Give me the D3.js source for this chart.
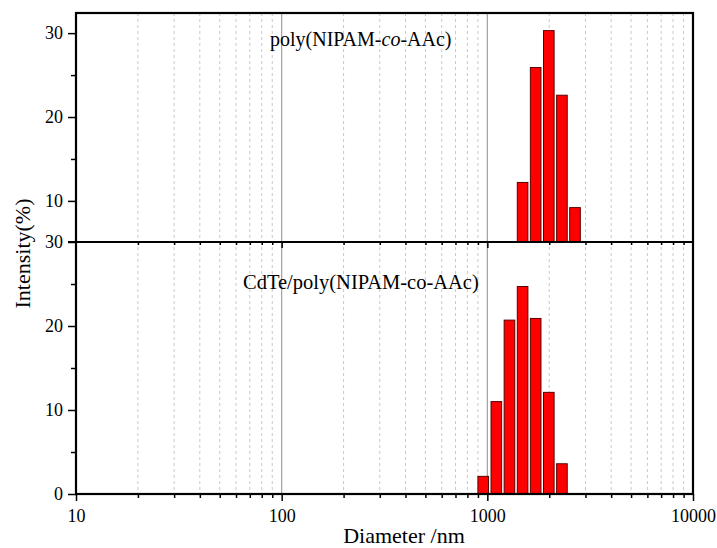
<!DOCTYPE html>
<html><head><meta charset="utf-8">
<script src="https://cdn.jsdelivr.net/npm/d3@7"></script>
<style>
body{margin:0;background:#fff;}
svg text{font-family:"Liberation Serif","Times New Roman","DejaVu Serif",serif;}
</style></head>
<body><svg id="c" width="717" height="548"></svg>
<script>
// Data
const polyDiam = [1484, 1718, 1990, 2305, 2669];
const polyInt  = [12.2, 25.9, 30.3, 22.6, 9.2];
const cdteDiam = [955, 1106, 1281, 1484, 1718, 1990, 2305];
const cdteInt  = [2.1, 11.0, 20.7, 24.7, 20.9, 12.1, 3.6];
const xTickValues = [10, 100, 1000, 10000];
const topYTicks = [10, 20, 30];
const botYTicks = [0, 10, 20, 30];
const topLabel = ["poly(NIPAM-", "co", "-AAc)"];
const botLabel = "CdTe/poly(NIPAM-co-AAc)";
const xTitle = "Diameter /nm";
const yTitle = "Intensity(%)";

const FONT = "Liberation Serif, Times New Roman, DejaVu Serif, serif";
const svg = d3.select("#c");
const L = 76, R = 693, T = 13, MID = 242, B = 494;
const x = d3.scaleLog().domain([10, 10000]).range([L, R]);
const yTop = d3.scaleLinear().domain([5.1, 32.4]).range([MID, T]);
const yBot = d3.scaleLinear().domain([0, 30]).range([B, MID]);

// minor positions
const minors = [];
for (let dec = 10; dec < 10000; dec *= 10) for (let k = 2; k <= 9; k++) minors.push(dec * k);

// grid
const g = svg.append("g");
g.selectAll(".mg").data(minors).enter().append("line")
  .attr("x1", d => x(d)).attr("x2", d => x(d)).attr("y1", T).attr("y2", B)
  .attr("stroke", "#c8c8c8").attr("stroke-width", 1).attr("stroke-dasharray", "3,3");
g.selectAll(".Mg").data([100, 1000]).enter().append("line")
  .attr("x1", d => x(d)).attr("x2", d => x(d)).attr("y1", T).attr("y2", B)
  .attr("stroke", "#a0a0a0").attr("stroke-width", 1.2);

// bars
const half = 1.0612;
function bars(diam, vals, y) {
  svg.append("g").selectAll("rect").data(diam).enter().append("rect")
    .attr("x", d => x(d / half))
    .attr("width", d => x(d * half) - x(d / half))
    .attr("y", (d, i) => y(vals[i]))
    .attr("height", (d, i) => y.range()[0] - y(vals[i]))
    .attr("fill", "#ff0000").attr("stroke", "#5a0000").attr("stroke-width", 1);
}
bars(polyDiam, polyInt, yTop);
bars(cdteDiam, cdteInt, yBot);

function styleAxis(a) {
  a.attr("font-family", FONT);
  a.select(".domain").remove();
  a.selectAll("line").attr("stroke", "#000").attr("stroke-width", 1.5);
  a.selectAll("text").attr("font-size", 18).attr("font-family", FONT).attr("fill", "#000");
}

// x axes
styleAxis(svg.append("g").attr("transform", `translate(0,${B})`)
  .call(d3.axisBottom(x).tickValues(xTickValues).tickFormat(d3.format("d")).tickSize(7).tickPadding(8)));
styleAxis(svg.append("g").attr("transform", `translate(0,${B})`)
  .call(d3.axisBottom(x).tickValues(minors).tickFormat("").tickSize(4)));

// ticks under the middle line (top panel x-axis)
styleAxis(svg.append("g").attr("transform", `translate(0,${MID})`)
  .call(d3.axisBottom(x).tickValues(xTickValues.slice(1, 3)).tickFormat("").tickSize(6)));
styleAxis(svg.append("g").attr("transform", `translate(0,${MID})`)
  .call(d3.axisBottom(x).tickValues(minors).tickFormat("").tickSize(3)));

// y axes
function yAxis(y, ticks, minorTicks) {
  styleAxis(svg.append("g").attr("transform", `translate(${L},0)`)
    .call(d3.axisLeft(y).tickValues(ticks).tickSize(8).tickPadding(5)));
  styleAxis(svg.append("g").attr("transform", `translate(${L},0)`)
    .call(d3.axisLeft(y).tickValues(minorTicks).tickFormat("").tickSize(5)));
}
yAxis(yTop, topYTicks, [15, 25]);
yAxis(yBot, botYTicks, [5, 15, 25]);

// frame
const fr = svg.append("g").attr("stroke", "#000").attr("stroke-width", 2.2).attr("fill", "none");
fr.append("rect").attr("x", L).attr("y", T).attr("width", R - L).attr("height", B - T);
fr.append("line").attr("x1", L - 8).attr("x2", R).attr("y1", MID).attr("y2", MID);

// panel labels
const t1 = svg.append("text").attr("x", 270).attr("y", 46).attr("font-size", 20)
  .attr("font-family", FONT).attr("fill", "#000");
t1.append("tspan").text(topLabel[0]);
t1.append("tspan").attr("font-style", "italic").text(topLabel[1]);
t1.append("tspan").text(topLabel[2]);
svg.append("text").attr("x", 243).attr("y", 289).attr("font-size", 20.5)
  .attr("font-family", FONT).attr("fill", "#000").text(botLabel);

// titles
svg.append("text").attr("x", 404).attr("y", 543).attr("text-anchor", "middle")
  .attr("font-family", FONT).attr("font-size", 22).attr("fill", "#000").text(xTitle);
svg.append("text").attr("transform", `translate(30,${(T + B) / 2}) rotate(-90)`).attr("text-anchor", "middle")
  .attr("font-family", FONT).attr("font-size", 22).attr("fill", "#000").text(yTitle);
</script></body></html>
